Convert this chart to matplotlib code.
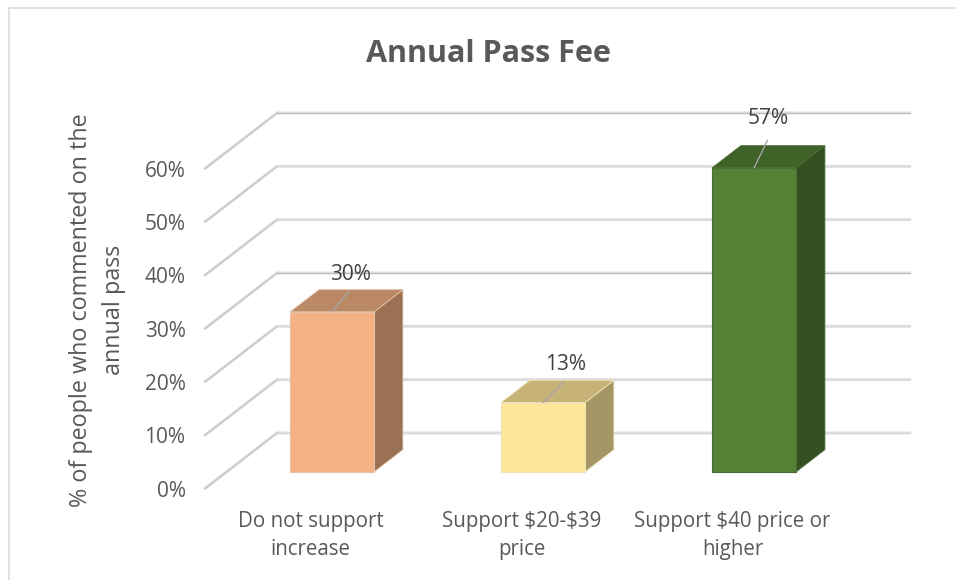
import matplotlib
matplotlib.use('Agg')
import matplotlib.pyplot as plt
from matplotlib.patches import Polygon

plt.rcParams['font.family'] = ['Open Sans', 'DejaVu Sans']

categories = ['Do not support\nincrease', 'Support \\$20-\\$39\nprice', 'Support \\$40 price or\nhigher']
values = [30, 13, 57]
labels = ['30%', '13%', '57%']
ticks = [0, 10, 20, 30, 40, 50, 60]
tick_labels = ['0%', '10%', '20%', '30%', '40%', '50%', '60%']
core_ticks = [30, 60]

front_colors = ['#F4B183', '#FFE699', '#548235']
top_colors = ['#BC8966', '#C7B377', '#3F6228']
side_colors = ['#9B7153', '#A59665', '#344F20']
edge_colors = ['#E3C3AC', '#EFE2B4', '#4A6D33']
label_offsets = [(18, 37), (22, 38), (14, 49)]

W, H = 956, 580
# oblique depth of the floor, in data units
depth_x = 72 / 211
depth_y = 55.5 / 5.333
bar_w = 84 / 211


def proj(x, y, d):
    return (x + d * depth_x, y + d * depth_y)


fig = plt.figure(figsize=(W / 100, H / 100), dpi=100)
ax = fig.add_axes([205 / W, (H - 488.5) / H, 705 / W, 375.5 / H])
ax.set_xlim(0, 705 / 211)
ax.set_ylim(0, 375.5 / 5.333)
ax.axis('off')

# chart border
fig.add_artist(plt.Line2D([9 / W, 9 / W], [0, 1 - 8 / H], color='#d9d9d9', lw=1.1))
fig.add_artist(plt.Line2D([9 / W, 1], [1 - 8 / H, 1 - 8 / H], color='#d9d9d9', lw=1.1))

x_end = 3
for t, tl in zip(ticks, tick_labels):
    p0 = proj(0, t, 0)
    p1 = proj(0, t, 1)
    p2 = proj(x_end, t, 1)
    ax.plot([p0[0], p1[0], p2[0]], [p0[1], p1[1], p2[1]], color='#dcdcdc', lw=2.1,
            solid_joinstyle='miter', solid_capstyle='round', zorder=1, clip_on=False)
    ax.plot([p0[0], p1[0]], [p0[1], p1[1]], color='#c4c4c4', lw=0.7, zorder=1.1, clip_on=False)
    if t in core_ticks:
        ax.plot([p1[0], p2[0]], [p1[1], p2[1]], color='#bdbdbd', lw=0.7, zorder=1.1, clip_on=False)
    ax.annotate(tl, (0, t), xytext=(-14, -2), textcoords='offset points', ha='right', va='center',
                fontsize=15, color='#595959', annotation_clip=False)

for i, v in enumerate(values):
    x0 = i + 0.5 - bar_w / 2
    x1 = i + 0.5 + bar_w / 2
    d0, d1 = 0.3, 0.7
    top = [proj(x0, v, d0), proj(x1, v, d0), proj(x1, v, d1), proj(x0, v, d1)]
    side = [proj(x1, 0, d0), proj(x1, 0, d1), proj(x1, v, d1), proj(x1, v, d0)]
    front = [proj(x0, 0, d0), proj(x1, 0, d0), proj(x1, v, d0), proj(x0, v, d0)]
    ax.add_patch(Polygon(side, closed=True, fc=side_colors[i], ec=edge_colors[i], lw=0.6, zorder=3))
    ax.add_patch(Polygon(top, closed=True, fc=top_colors[i], ec=edge_colors[i], lw=0.6, zorder=3))
    ax.add_patch(Polygon(front, closed=True, fc=front_colors[i], ec=edge_colors[i], lw=0.8, zorder=4))

    # leader line and value label
    base = proj(i + 0.5, v, d0)
    off = label_offsets[i]
    ax.annotate(labels[i], base, xytext=off, textcoords='offset pixels', ha='center', va='center',
                fontsize=15, color='#404040', zorder=6, annotation_clip=False)
    ax.annotate('', base, xytext=(off[0] * 0.95, off[1] * 0.56), textcoords='offset pixels',
                arrowprops=dict(arrowstyle='-', color='#a6a6a6', lw=1, shrinkA=0, shrinkB=0),
                zorder=5, annotation_clip=False)

    # category label under the bar
    ax.annotate(categories[i], proj(i + 0.5, 0, 0), xytext=(0, -16), textcoords='offset points',
                ha='center', va='top', fontsize=14.8, color='#595959', linespacing=1.45,
                annotation_clip=False)

fig.text(488 / W, 1 - 54 / H, 'Annual Pass Fee', ha='center', va='center',
         fontsize=22, fontweight='bold', color='#595959')
fig.text(97.5 / W, 1 - 310 / H, '% of people who commented on the\nannual pass', rotation=90,
         ha='center', va='center', fontsize=16.8, color='#595959', linespacing=1.47,
         multialignment='center')

fig.savefig('out.png', dpi=100)
